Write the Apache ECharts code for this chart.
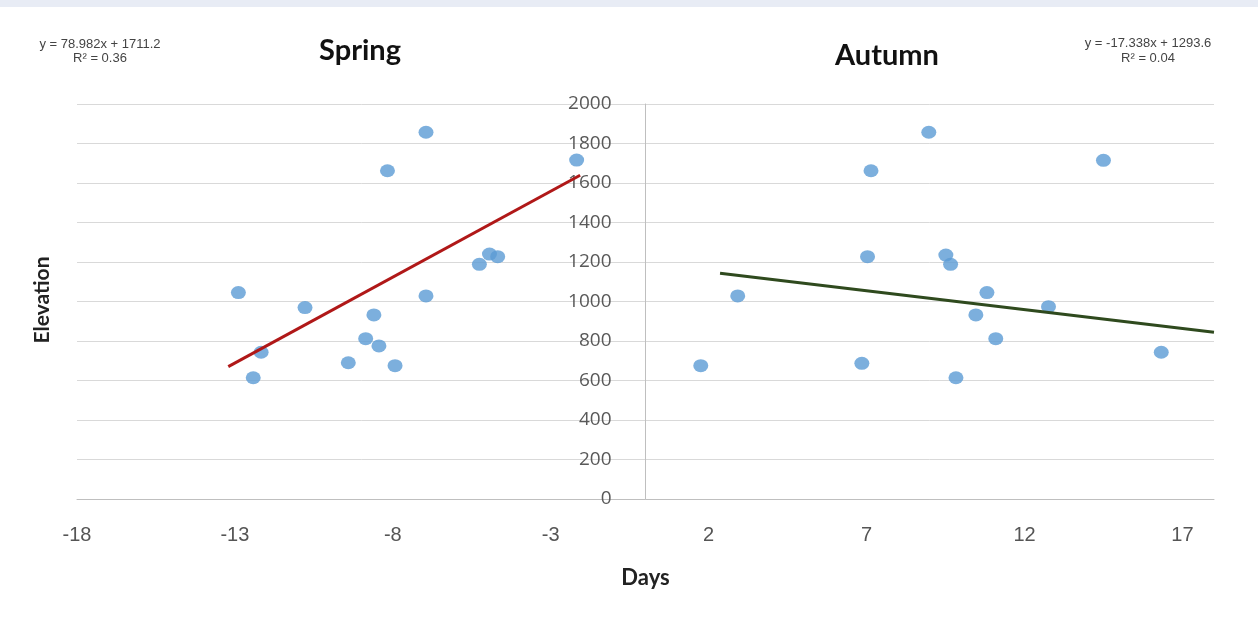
<!DOCTYPE html>
<html>
<head>
<meta charset="utf-8">
<script src="https://cdn.jsdelivr.net/npm/echarts@6/dist/echarts.min.js"></script>
<style>
html,body{margin:0;padding:0;background:#fff;}
#chart{width:1258px;height:624px;}
</style>
</head>
<body>
<div id="chart"></div>
<script>
// ---- data ----
var springDays = [-12.89, -12.42, -12.17, -10.78, -9.41, -8.86, -8.60, -8.44, -8.17, -7.93, -6.95, -6.95, -5.26, -4.94, -4.68, -2.18];
var springElev = [1045, 614, 743, 969, 690, 812, 932, 775, 1662, 675, 1857, 1028, 1188, 1240, 1227, 1716];
var autumnDays = [1.75, 2.92, 6.85, 7.03, 7.14, 8.97, 9.51, 9.66, 9.83, 10.46, 10.81, 11.09, 12.76, 14.50, 16.33];
var autumnElev = [675, 1028, 687, 1227, 1662, 1857, 1235, 1188, 614, 932, 1045, 812, 974, 1715, 743];
var springTrendDays = [-13.21, -2.07];
var springTrendElev = [670, 1639];
var autumnTrendDays = [2.36, 18];
var autumnTrendElev = [1143, 844];
var xTicks = {min: -18, max: 18, interval: 5};
var yTicks = {min: 0, max: 2000, interval: 200};
var titles = ["Spring", "Autumn"];
var springEq = ["y = 78.982x + 1711.2", "R\u00b2 = 0.36"];
var autumnEq = ["y = -17.338x + 1293.6", "R\u00b2 = 0.04"];
var xName = "Days";
var yName = "Elevation";

function pairs(xs, ys){ return xs.map(function(x,i){ return [x, ys[i]]; }); }

var gridLeft = 77, gridRight = 44, W = 1258;
var plotW = W - gridLeft - gridRight;
// pixel offset of x = 0 from the left edge of the plot, derived from the x scale
var zeroOffset = plotW * (0 - xTicks.min) / (xTicks.max - xTicks.min);

var chart = echarts.init(document.getElementById('chart'));
var pointStyle = {color: '#5b9bd5'};
chart.setOption({
  backgroundColor: '#ffffff',
  animation: false,
  grid: {left: gridLeft, right: gridRight, top: 104, bottom: 125, containLabel: false, outerBoundsMode: 'none'},
  title: [
    {text: titles[0], left: 355, top: 31, textAlign: 'center',
     textStyle: {fontFamily: 'Lato', fontWeight: 'bold', fontSize: 29, color: '#111'}},
    {text: titles[1], left: 882, top: 36, textAlign: 'center',
     textStyle: {fontFamily: 'Lato', fontWeight: 'bold', fontSize: 29, color: '#111'}}
  ],
  graphic: [
    {type: 'rect', left: 0, top: 0, shape: {width: 1258, height: 7}, style: {fill: '#e8ecf5'}},
    {type: 'text', x: 100, y: 38, style: {text: springEq[0], textAlign: 'center', font: '13px "Liberation Sans"', fill: '#444'}},
    {type: 'text', x: 100, y: 52, style: {text: springEq[1], textAlign: 'center', font: '13px "Liberation Sans"', fill: '#444'}},
    {type: 'text', x: 1148, y: 37, style: {text: autumnEq[0], textAlign: 'center', font: '13px "Liberation Sans"', fill: '#444'}},
    {type: 'text', x: 1148, y: 52, style: {text: autumnEq[1], textAlign: 'center', font: '13px "Liberation Sans"', fill: '#444'}},
    {type: 'text', x: 42, y: 300, rotation: Math.PI / 2,
     style: {text: yName, textAlign: 'center', textVerticalAlign: 'middle', font: 'bold 21px Lato', fill: '#222'}}
  ],
  xAxis: {
    type: 'value', min: xTicks.min, max: xTicks.max, interval: xTicks.interval,
    name: xName, nameLocation: 'middle', nameGap: 68,
    nameTextStyle: {fontFamily: 'Lato', fontWeight: 'bold', fontSize: 22, color: '#222'},
    axisLine: {show: true, lineStyle: {color: '#bfbfbf', width: 1}},
    axisTick: {show: false},
    axisLabel: {showMaxLabel: false, margin: 26, fontFamily: '"Liberation Sans Narrow", "Liberation Sans"', fontSize: 20, color: '#555',
      formatter: function(v){ return String(v); }},
    splitLine: {show: false}
  },
  yAxis: {
    type: 'value', min: yTicks.min, max: yTicks.max, interval: yTicks.interval,
    position: 'left', offset: -zeroOffset,
    axisLine: {show: true, onZero: false, lineStyle: {color: '#bfbfbf', width: 1}},
    axisTick: {show: false},
    axisLabel: {margin: 34, fontFamily: '"Open Sans"', fontSize: 19, color: '#595959',
      formatter: function(v){ return String(v); }},
    splitLine: {show: true, lineStyle: {color: '#d9d9d9', width: 1}}
  },
  series: [
    {type: 'scatter', data: pairs(springDays, springElev), symbol: 'circle', symbolSize: [15, 13], itemStyle: pointStyle, z: 3},
    {type: 'scatter', data: pairs(autumnDays, autumnElev), symbol: 'circle', symbolSize: [15, 13], itemStyle: pointStyle, z: 3},
    {type: 'line', data: pairs(springTrendDays, springTrendElev), symbol: 'none', lineStyle: {color: '#b01818', width: 3}, z: 4},
    {type: 'line', data: pairs(autumnTrendDays, autumnTrendElev), symbol: 'none', lineStyle: {color: '#2f4a1e', width: 3}, z: 4}
  ]
});
</script>
</body>
</html>
